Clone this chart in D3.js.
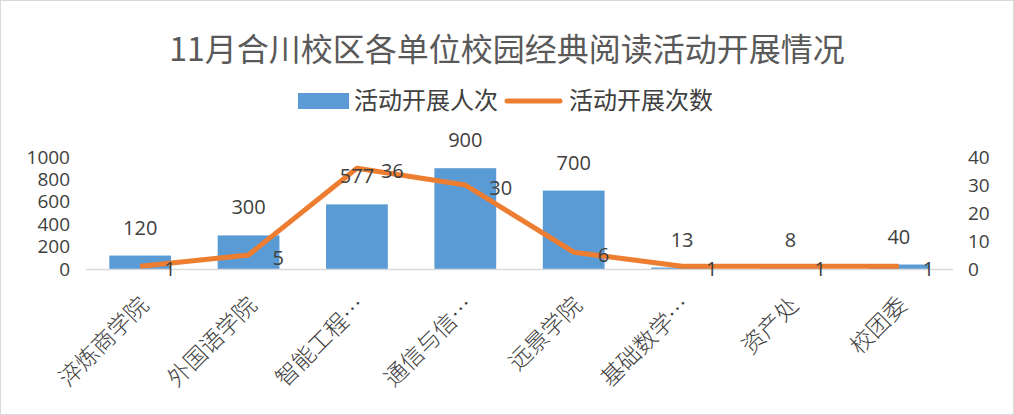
<!DOCTYPE html>
<meta charset='utf-8'>
<style>
	body { margin: 0; background: #fff; }
	text { font-family: 'Open Sans', 'Noto Sans CJK SC', sans-serif; fill: #404040; }
	.cjk { font-family: 'Noto Sans CJK SC', sans-serif; }
</style>
<body>
	<div id='container'></div>
<script src='https://d3js.org/d3.v7.min.js'></script>
<script>
	const categories = [ '淬炼商学院', '外国语学院', '智能工程…', '通信与信…', '远景学院', '基础数学…', '资产处', '校团委' ];
	const people = [ 120, 300, 577, 900, 700, 13, 8, 40 ];
	const counts = [ 1, 5, 36, 30, 6, 1, 1, 1 ];
	const leftTicks = [ 0, 200, 400, 600, 800, 1000 ];
	const rightTicks = [ 0, 10, 20, 30, 40 ];
	const seriesNames = [ '活动开展人次', '活动开展次数' ];

	const W = 1014, H = 415,
		margin = { top: 157, left: 86, right: 61, bottom: 146 },
		width = W - margin.left - margin.right,
		height = H - margin.top - margin.bottom;

	const barColor = '#5b9bd5', lineColor = '#ed7d31';

	const svg = d3.select( '#container' ).append( 'svg' )
		.attr( 'width', W ).attr( 'height', H );

	// frame
	svg.append( 'rect' )
		.attr( 'x', 0.5 ).attr( 'y', 0.5 )
		.attr( 'width', W - 1 ).attr( 'height', H - 1 )
		.style( 'fill', '#fff' ).style( 'stroke', '#d9d9d9' );

	const g = svg.append( 'g' )
		.attr( 'transform', `translate( ${margin.left}, ${margin.top} )` );

	const x = d3.scaleBand()
		.domain( categories )
		.range( [0, width] )
		.paddingInner( 0.43 )
		.paddingOuter( 0.215 );
	const yL = d3.scaleLinear().domain( [0, 1000] ).range( [height, 0] );
	const yR = d3.scaleLinear().domain( [0, 40] ).range( [height, 0] );

	// axes
	const axL = g.append( 'g' ).call( d3.axisLeft( yL ).tickValues( leftTicks ).tickFormat( d3.format( 'd' ) ).tickSize( 0 ).tickPadding( 16 ) );
	const axR = g.append( 'g' ).attr( 'transform', `translate( ${width}, 0 )` )
		.call( d3.axisRight( yR ).tickValues( rightTicks ).tickFormat( d3.format( 'd' ) ).tickSize( 0 ).tickPadding( 15 ) );
	[ axL, axR ].forEach( a => {
		a.select( '.domain' ).remove();
		a.selectAll( 'text' ).style( 'font-size', '19px' ).style( 'fill', '#404040' ).style( 'font-family', "'Open Sans', sans-serif" );
	} );

	// bars
	const cx = c => x( c ) + x.bandwidth() / 2;
	g.selectAll( '.bar' )
		.data( categories )
		.enter().append( 'rect' )
			.attr( 'class', 'bar' )
			.attr( 'x', d => x( d ) )
			.attr( 'y', ( d, i ) => yL( people[i] ) )
			.attr( 'width', x.bandwidth() )
			.attr( 'height', ( d, i ) => height - yL( people[i] ) )
			.style( 'fill', barColor );

	// x axis line
	g.append( 'line' )
		.attr( 'x1', 0 ).attr( 'x2', width )
		.attr( 'y1', height + 0.5 ).attr( 'y2', height + 0.5 )
		.style( 'stroke', '#d9d9d9' ).style( 'stroke-width', 1.5 );

	// line
	const line = d3.line()
		.x( ( d, i ) => cx( categories[i] ) )
		.y( d => yR( d ) );
	g.append( 'path' )
		.datum( counts )
		.attr( 'd', line )
		.style( 'fill', 'none' )
		.style( 'stroke', lineColor )
		.style( 'stroke-width', 5 )
		.style( 'stroke-linejoin', 'round' );

	// bar labels
	g.selectAll( '.bar-label' )
		.data( categories )
		.enter().append( 'text' )
			.attr( 'class', 'bar-label' )
			.attr( 'x', d => cx( d ) )
			.attr( 'y', ( d, i ) => yL( people[i] ) - 28 )
			.attr( 'dy', '.35em' )
			.style( 'text-anchor', 'middle' )
			.style( 'font-size', '20px' )
			.text( ( d, i ) => people[i] );

	// line labels
	g.selectAll( '.line-label' )
		.data( categories )
		.enter().append( 'text' )
			.attr( 'class', 'line-label' )
			.attr( 'x', d => cx( d ) + 24 )
			.attr( 'y', ( d, i ) => yR( counts[i] ) + 3 )
			.attr( 'dy', '.35em' )
			.style( 'text-anchor', 'start' )
			.style( 'font-size', '20px' )
			.text( ( d, i ) => counts[i] );

	// category labels
	g.selectAll( '.cat' )
		.data( categories )
		.enter().append( 'text' )
			.attr( 'class', 'cat cjk' )
			.attr( 'transform', d => `translate( ${cx( d ) + 4}, ${height + 32} ) rotate( -45 )` )
			.attr( 'dy', '.35em' )
			.style( 'text-anchor', 'end' )
			.style( 'font-size', '23px' )
			.style( 'font-weight', 300 )
			.text( d => d );

	// title
	svg.append( 'text' )
		.attr( 'class', 'cjk' )
		.attr( 'x', W / 2 )
		.attr( 'y', 50 )
		.attr( 'dy', '.35em' )
		.style( 'text-anchor', 'middle' )
		.style( 'font-size', '32px' )
		.style( 'fill', '#595959' )
		.text( '11月合川校区各单位校园经典阅读活动开展情况' );

	// legend
	const legend = svg.append( 'g' ).attr( 'transform', 'translate( 298, 101 )' );
	legend.append( 'rect' )
		.attr( 'x', 0 ).attr( 'y', -8 )
		.attr( 'width', 51 ).attr( 'height', 16 )
		.style( 'fill', barColor );
	legend.append( 'text' )
		.attr( 'class', 'cjk' )
		.attr( 'x', 56 ).attr( 'dy', '.35em' )
		.style( 'font-size', '24px' )
		.text( seriesNames[0] );
	legend.append( 'line' )
		.attr( 'x1', 209 ).attr( 'x2', 262 )
		.style( 'stroke', lineColor )
		.style( 'stroke-width', 5 )
		.style( 'stroke-linecap', 'round' );
	legend.append( 'text' )
		.attr( 'class', 'cjk' )
		.attr( 'x', 271 ).attr( 'dy', '.35em' )
		.style( 'font-size', '24px' )
		.text( seriesNames[1] );
</script>
</body>
